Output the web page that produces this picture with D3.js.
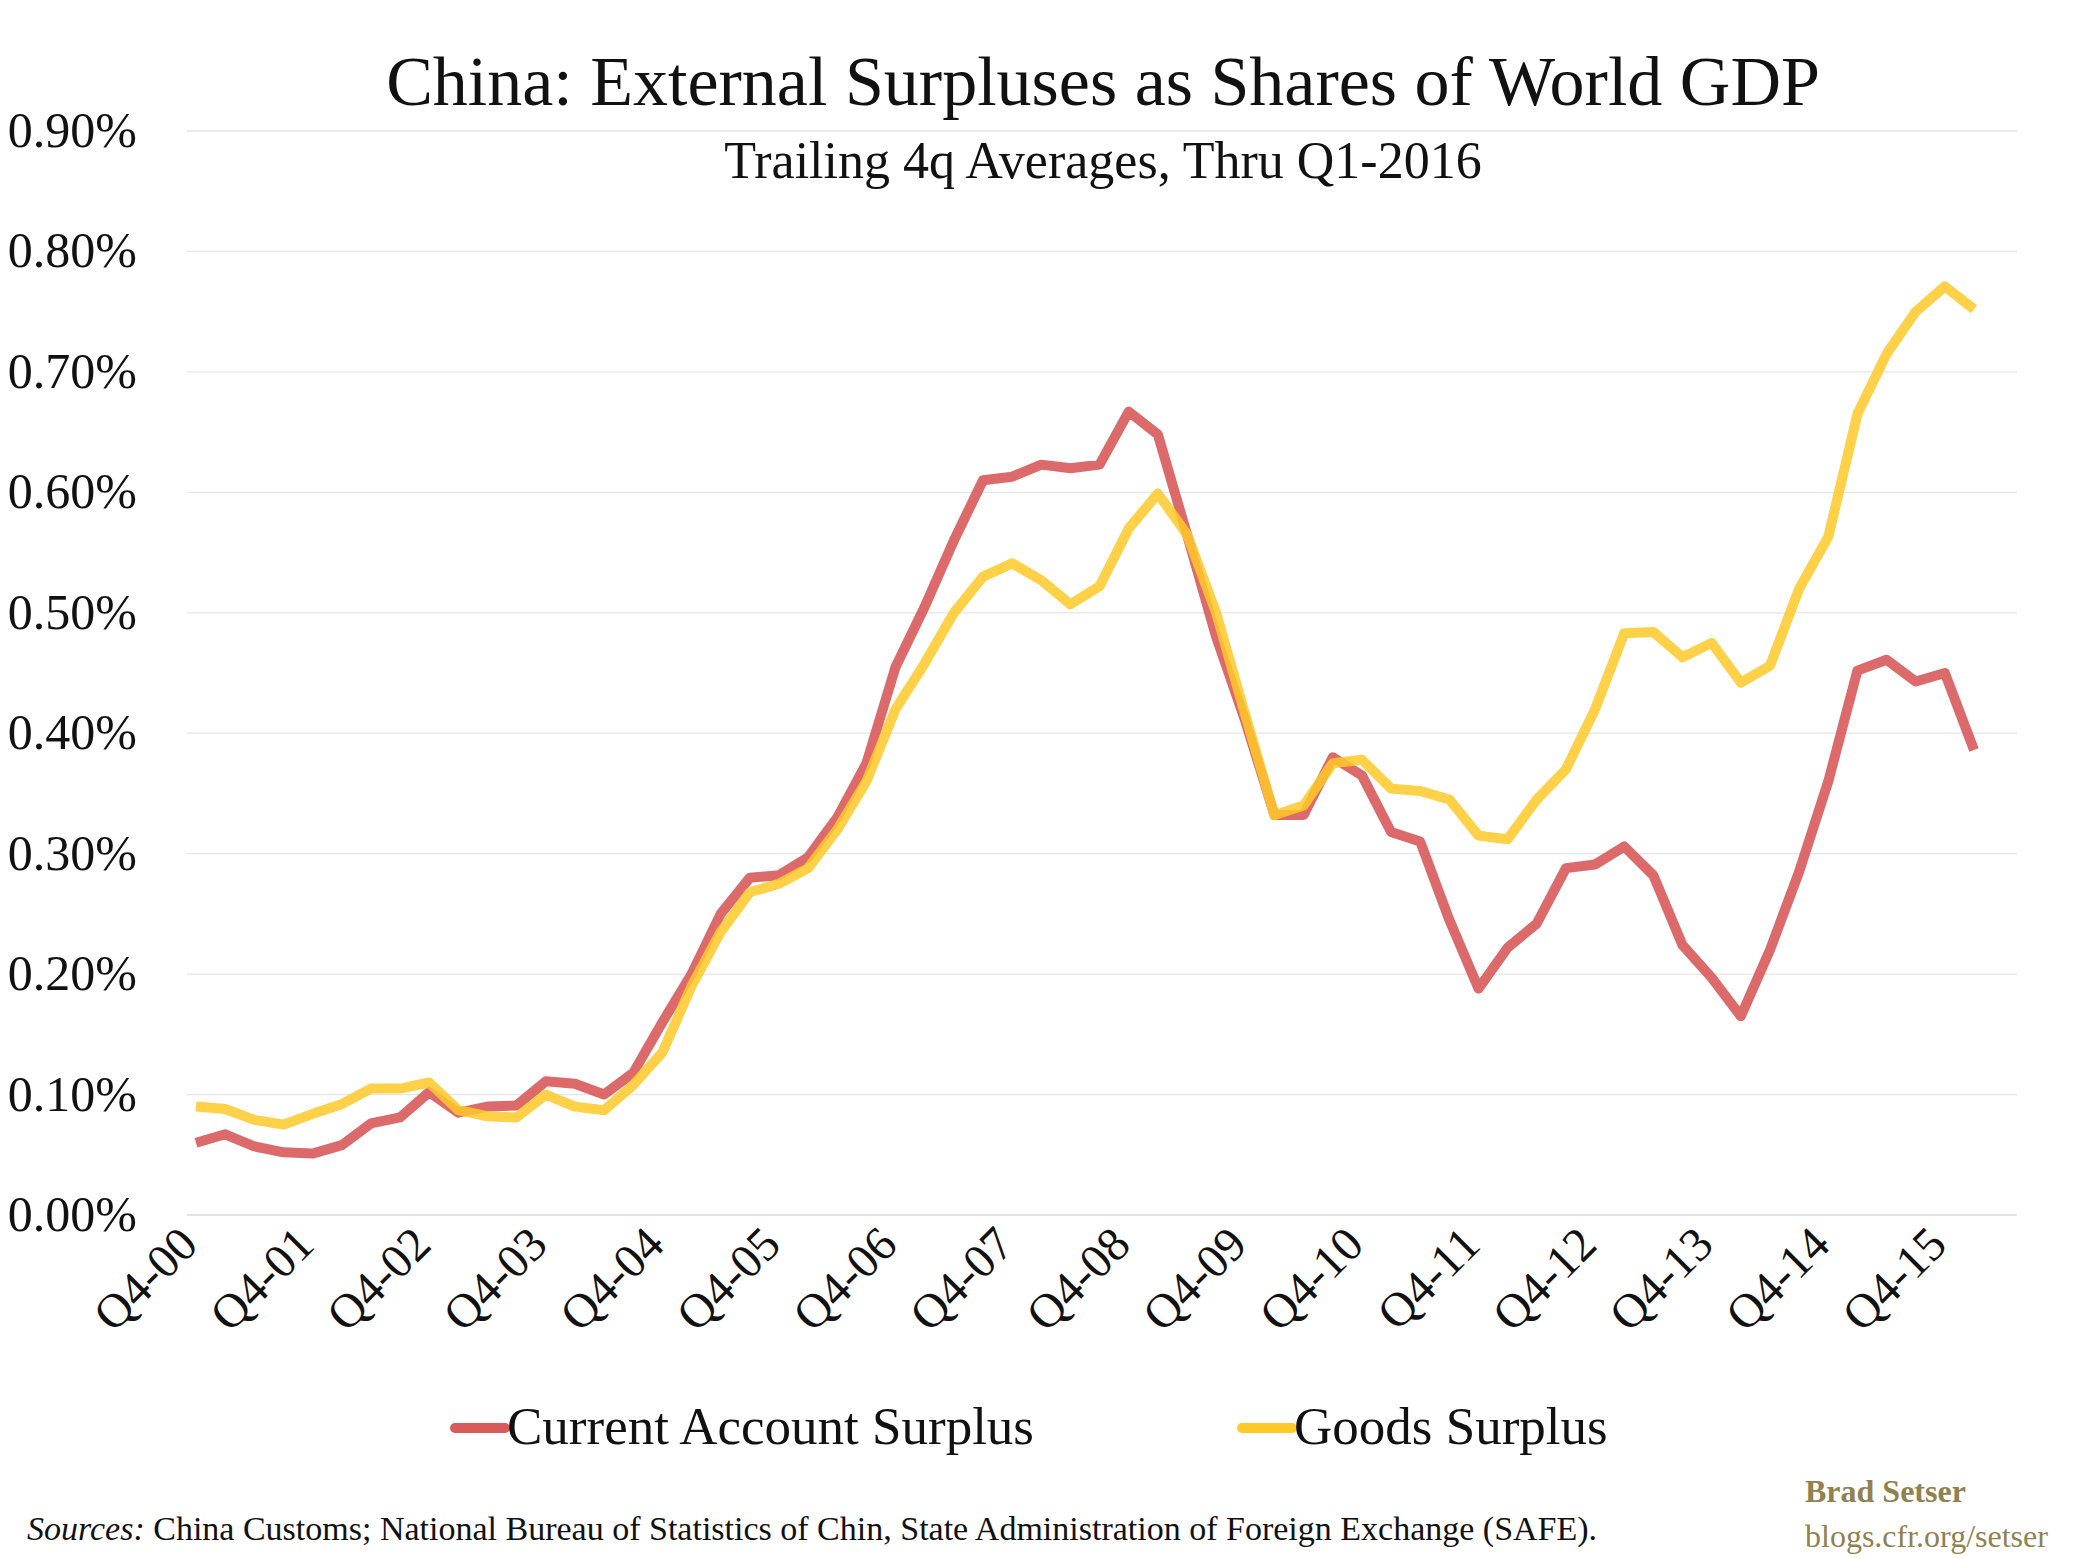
<!DOCTYPE html>
<html><head><meta charset="utf-8">
<script src="https://cdn.jsdelivr.net/npm/d3@7"></script>
<style>body{margin:0;background:#fff}svg{display:block}text{font-family:"Liberation Serif","DejaVu Serif",serif}</style>
</head><body><svg id="c" width="2079" height="1558"></svg>
<script>
const yearsQ = ["Q4-00","Q4-01","Q4-02","Q4-03","Q4-04","Q4-05","Q4-06","Q4-07","Q4-08","Q4-09","Q4-10","Q4-11","Q4-12","Q4-13","Q4-14","Q4-15"];
const yTicks = [0,0.1,0.2,0.3,0.4,0.5,0.6,0.7,0.8,0.9];
const currentAccount = [0.06,0.067,0.057,0.052,0.051,0.058,0.076,0.081,0.102,0.085,0.09,0.091,0.111,0.109,0.10,0.118,0.16,0.20,0.25,0.28,0.282,0.297,0.33,0.375,0.455,0.505,0.56,0.61,0.613,0.623,0.62,0.623,0.667,0.648,0.565,0.48,0.41,0.332,0.332,0.38,0.365,0.318,0.31,0.245,0.188,0.222,0.242,0.288,0.291,0.306,0.282,0.224,0.197,0.165,0.22,0.285,0.36,0.452,0.461,0.443,0.45,0.386];
const goods = [0.09,0.088,0.079,0.075,0.084,0.092,0.105,0.105,0.11,0.087,0.082,0.081,0.1,0.09,0.087,0.108,0.135,0.19,0.235,0.268,0.275,0.288,0.32,0.36,0.42,0.458,0.5,0.53,0.541,0.527,0.507,0.522,0.57,0.599,0.565,0.5,0.415,0.332,0.34,0.375,0.378,0.354,0.352,0.345,0.315,0.312,0.345,0.37,0.42,0.483,0.484,0.463,0.475,0.442,0.456,0.52,0.563,0.665,0.715,0.75,0.771,0.752];

const svg = d3.select("#c");
const L=187, R=2017, T=131, B=1215;
const x = d3.scaleLinear().domain([0,61]).range([196, 1974]);
const y = d3.scaleLinear().domain([0,0.9]).range([B,T]);

svg.append("g").selectAll("line").data(yTicks).join("line")
  .attr("x1",L).attr("x2",R).attr("y1",d=>y(d)).attr("y2",d=>y(d))
  .attr("stroke",d=>d===0?"#d9d9d9":"#e6e6e6").attr("stroke-width",1.3);
svg.append("g").selectAll("text").data(yTicks).join("text")
  .attr("x",137).attr("y",d=>y(d)+16).attr("text-anchor","end")
  .attr("font-size",50).attr("fill","#111").text(d=>d.toFixed(2)+"%");

svg.append("g").selectAll("text").data(yearsQ).join("text")
  .attr("transform",(d,i)=>`translate(${x(i*4)+4},${B+32}) rotate(-45)`)
  .attr("text-anchor","end").attr("font-size",48).attr("fill","#111").text(d=>d);

const line = d3.line().x((d,i)=>x(i)).y(d=>y(d));
svg.append("path").datum(currentAccount).attr("d",line).attr("fill","none")
  .attr("stroke","#d85a5a").attr("stroke-opacity",0.9).attr("stroke-width",10).attr("stroke-linejoin","round");
svg.append("path").datum(goods).attr("d",line).attr("fill","none")
  .attr("stroke","#ffc928").attr("stroke-opacity",0.85).attr("stroke-width",10).attr("stroke-linejoin","round");

svg.append("text").attr("x",1103).attr("y",105).attr("text-anchor","middle").attr("font-size",70).attr("fill","#111")
  .text("China: External Surpluses as Shares of World GDP");
svg.append("text").attr("x",1103).attr("y",178).attr("text-anchor","middle").attr("font-size",52).attr("fill","#111")
  .text("Trailing 4q Averages, Thru Q1-2016");

const leg=[["Current Account Surplus","#d85a5a",455],["Goods Surplus","#ffc928",1242]];
leg.forEach(([t,c,lx])=>{
  svg.append("line").attr("x1",lx).attr("x2",lx+50).attr("y1",1428).attr("y2",1428)
    .attr("stroke",c).attr("stroke-width",10).attr("stroke-linecap","round");
  svg.append("text").attr("x",lx+52).attr("y",1444).attr("font-size",53).attr("fill","#111").text(t);
});

const s=svg.append("text").attr("x",27).attr("y",1540).attr("font-size",34).attr("fill","#111");
s.append("tspan").attr("font-style","italic").text("Sources: ");
s.append("tspan").text("China Customs; National Bureau of Statistics of Chin, State Administration of Foreign Exchange (SAFE).");
svg.append("text").attr("x",1805).attr("y",1502).attr("font-size",32).attr("font-weight","bold").attr("fill","#8f8150").text("Brad Setser");
svg.append("text").attr("x",1805).attr("y",1547).attr("font-size",32).attr("fill","#8f8150").text("blogs.cfr.org/setser");
</script></body></html>
